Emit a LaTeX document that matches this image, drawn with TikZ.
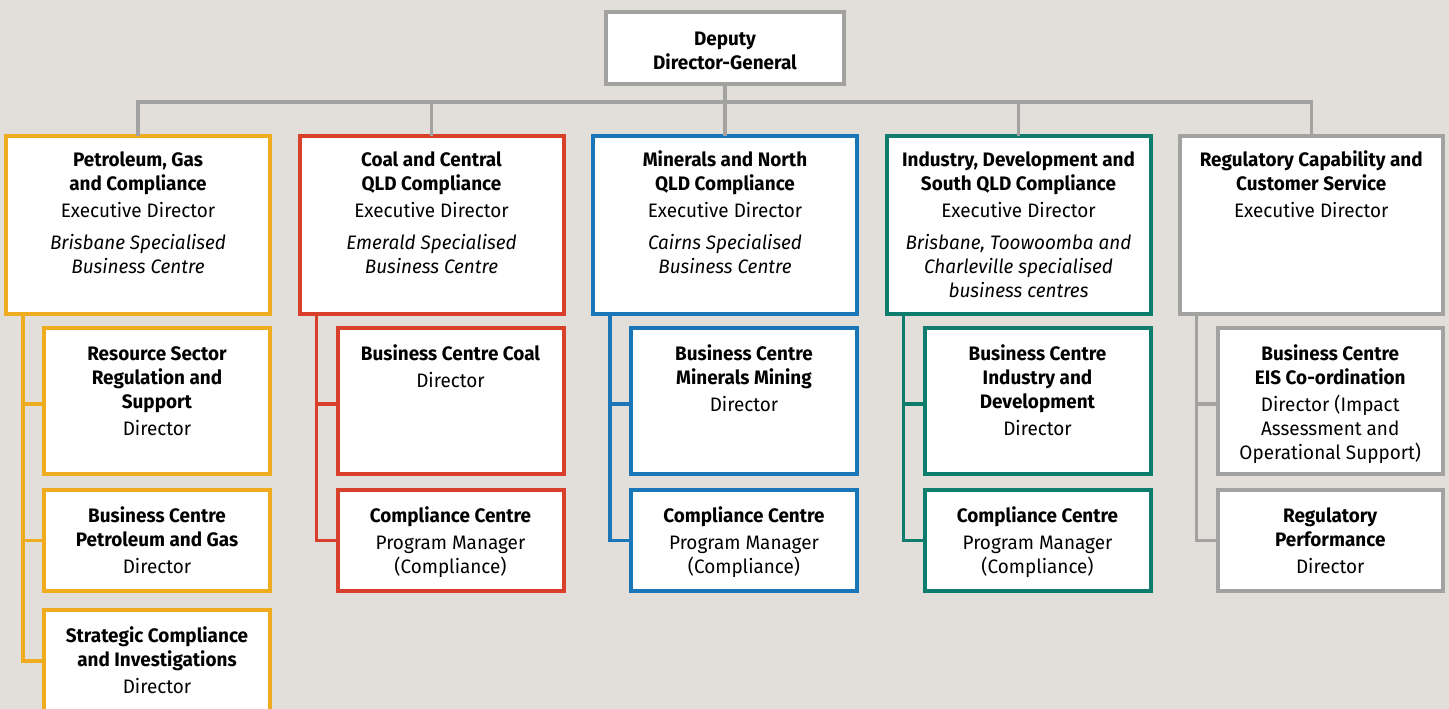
\documentclass[tikz,border=0pt]{standalone}
\usepackage{fontspec}
\setmainfont{Fira Sans}[FakeStretch=0.97]
\definecolor{bgc}{HTML}{E2DFDA}
\definecolor{greyc}{HTML}{A2A2A1}
\definecolor{yelc}{HTML}{EFAC1E}
\definecolor{redc}{HTML}{D8402B}
\definecolor{bluc}{HTML}{1B75B9}
\definecolor{grnc}{HTML}{0F7D6D}
\newcommand\tstrut{\rule{0pt}{17pt}}
\begin{document}
\begin{tikzpicture}[x=1pt,y=-1pt,
  box/.style={draw, line width=4pt, fill=white, inner sep=0pt, outer sep=0pt, anchor=north west},
  pbox/.style={box, minimum width=264pt, minimum height=178pt},
  sbox/.style={box, minimum width=226pt},
  conn/.style={line width=3.5pt},
  lbl/.style={anchor=north, align=center, inner sep=0pt, font=\fontsize{19.5}{24}\selectfont},
]
\fill[bgc] (0,0) rectangle (1449,709);
\useasboundingbox (0,0) rectangle (1449,709);

% top box
\node[box, draw=greyc, minimum width=238pt, minimum height=72pt] (dg) at (606,12) {};
\node[lbl] (dgt) at (725,28) {\tstrut\textbf{Deputy}\\\textbf{Director-General}};

% parent boxes
\node[pbox, draw=yelc] (p1) at (6,136) {};
\node[pbox, draw=redc] (p2) at (299.5,136) {};
\node[pbox, draw=bluc] (p3) at (593,136) {};
\node[pbox, draw=grnc] (p4) at (886.5,136) {};
\node[pbox, draw=greyc, minimum width=263.5pt] (p5) at (1179.5,136) {};

\node[lbl] (p1t) at (138,149) {\tstrut\textbf{Petroleum, Gas}\\\textbf{and Compliance}\\[3.5pt]Executive Director\\[7.5pt]\textit{Brisbane Specialised}\\\textit{Business Centre}};
\node[lbl] (p2t) at (431.5,149) {\tstrut\textbf{Coal and Central}\\\textbf{QLD Compliance}\\[3.5pt]Executive Director\\[7.5pt]\textit{Emerald Specialised}\\\textit{Business Centre}};
\node[lbl] (p3t) at (725,149) {\tstrut\textbf{Minerals and North}\\\textbf{QLD Compliance}\\[3.5pt]Executive Director\\[7.5pt]\textit{Cairns Specialised}\\\textit{Business Centre}};
\node[lbl] (p4t) at (1018.5,149) {\tstrut\textbf{Industry, Development and}\\\textbf{South QLD Compliance}\\[3.5pt]Executive Director\\[7.5pt]\textit{Brisbane, Toowoomba and}\\\textit{Charleville specialised}\\\textit{business centres}};
\node[lbl] (p5t) at (1311.25,149) {\tstrut\textbf{Regulatory Capability and}\\\textbf{Customer Service}\\[3.5pt]Executive Director};

% sub boxes column 1
\node[sbox, draw=yelc, minimum height=146pt] (s11) at (44,328) {};
\node[sbox, draw=yelc, minimum height=101pt] (s12) at (44,490) {};
\node[sbox, draw=yelc, minimum height=102pt] (s13) at (44,610) {};
\node[lbl] at (157,343) {\tstrut\textbf{Resource Sector}\\\textbf{Regulation and}\\\textbf{Support}\\[3.5pt]Director};
\node[lbl] at (157,505) {\tstrut\textbf{Business Centre}\\\textbf{Petroleum and Gas}\\[3.5pt]Director};
\node[lbl] at (157,625) {\tstrut\textbf{Strategic Compliance}\\\textbf{and Investigations}\\[3.5pt]Director};

% column 2
\node[sbox, draw=redc, minimum height=146pt] (s21) at (337.5,328) {};
\node[sbox, draw=redc, minimum height=101pt] (s22) at (337.5,490) {};
\node[lbl] at (450.5,343) {\tstrut\textbf{Business Centre Coal}\\[3.5pt]Director};
\node[lbl] at (450.5,505) {\tstrut\textbf{Compliance Centre}\\[3.5pt]Program Manager\\(Compliance)};

% column 3
\node[sbox, draw=bluc, minimum height=146pt] (s31) at (631,328) {};
\node[sbox, draw=bluc, minimum height=101pt] (s32) at (631,490) {};
\node[lbl] at (744,343) {\tstrut\textbf{Business Centre}\\\textbf{Minerals Mining}\\[3.5pt]Director};
\node[lbl] at (744,505) {\tstrut\textbf{Compliance Centre}\\[3.5pt]Program Manager\\(Compliance)};

% column 4
\node[sbox, draw=grnc, minimum height=146pt] (s41) at (924.5,328) {};
\node[sbox, draw=grnc, minimum height=101pt] (s42) at (924.5,490) {};
\node[lbl] at (1037.5,343) {\tstrut\textbf{Business Centre}\\\textbf{Industry and}\\\textbf{Development}\\[3.5pt]Director};
\node[lbl] at (1037.5,505) {\tstrut\textbf{Compliance Centre}\\[3.5pt]Program Manager\\(Compliance)};

% column 5
\node[sbox, draw=greyc, minimum height=146pt, minimum width=225.5pt] (s51) at (1217.5,328) {};
\node[sbox, draw=greyc, minimum height=101pt, minimum width=225.5pt] (s52) at (1217.5,490) {};
\node[lbl] at (1330.25,343) {\tstrut\textbf{Business Centre}\\\textbf{EIS Co-ordination}\\[3.5pt]Director (Impact\\Assessment and\\Operational Support)};
\node[lbl] at (1330.25,505) {\tstrut\textbf{Regulatory}\\\textbf{Performance}\\[3.5pt]Director};

% top connectors
\coordinate (bus) at (725,102);
\draw[conn, greyc] (p1.north) -- (p1.north |- bus) -- (p5.north |- bus) -- (p5.north);
\draw[conn, greyc] (dg.south) -- (p3.north);
\draw[conn, greyc] (p2.north) -- (p2.north |- bus);
\draw[conn, greyc] (p4.north) -- (p4.north |- bus);

% column connectors
\foreach \c/\col in {1/yelc, 2/redc, 3/bluc, 4/grnc, 5/greyc}{
  \draw[conn, \col] ([xshift=17pt]p\c.south west) |- ([yshift=-3pt]s\c1.west);
  \draw[conn, \col] ([xshift=17pt]p\c.south west) |- (s\c2.west);
}
\draw[conn, yelc] ([xshift=17pt]p1.south west) |- (s13.west);
\end{tikzpicture}
\end{document}
